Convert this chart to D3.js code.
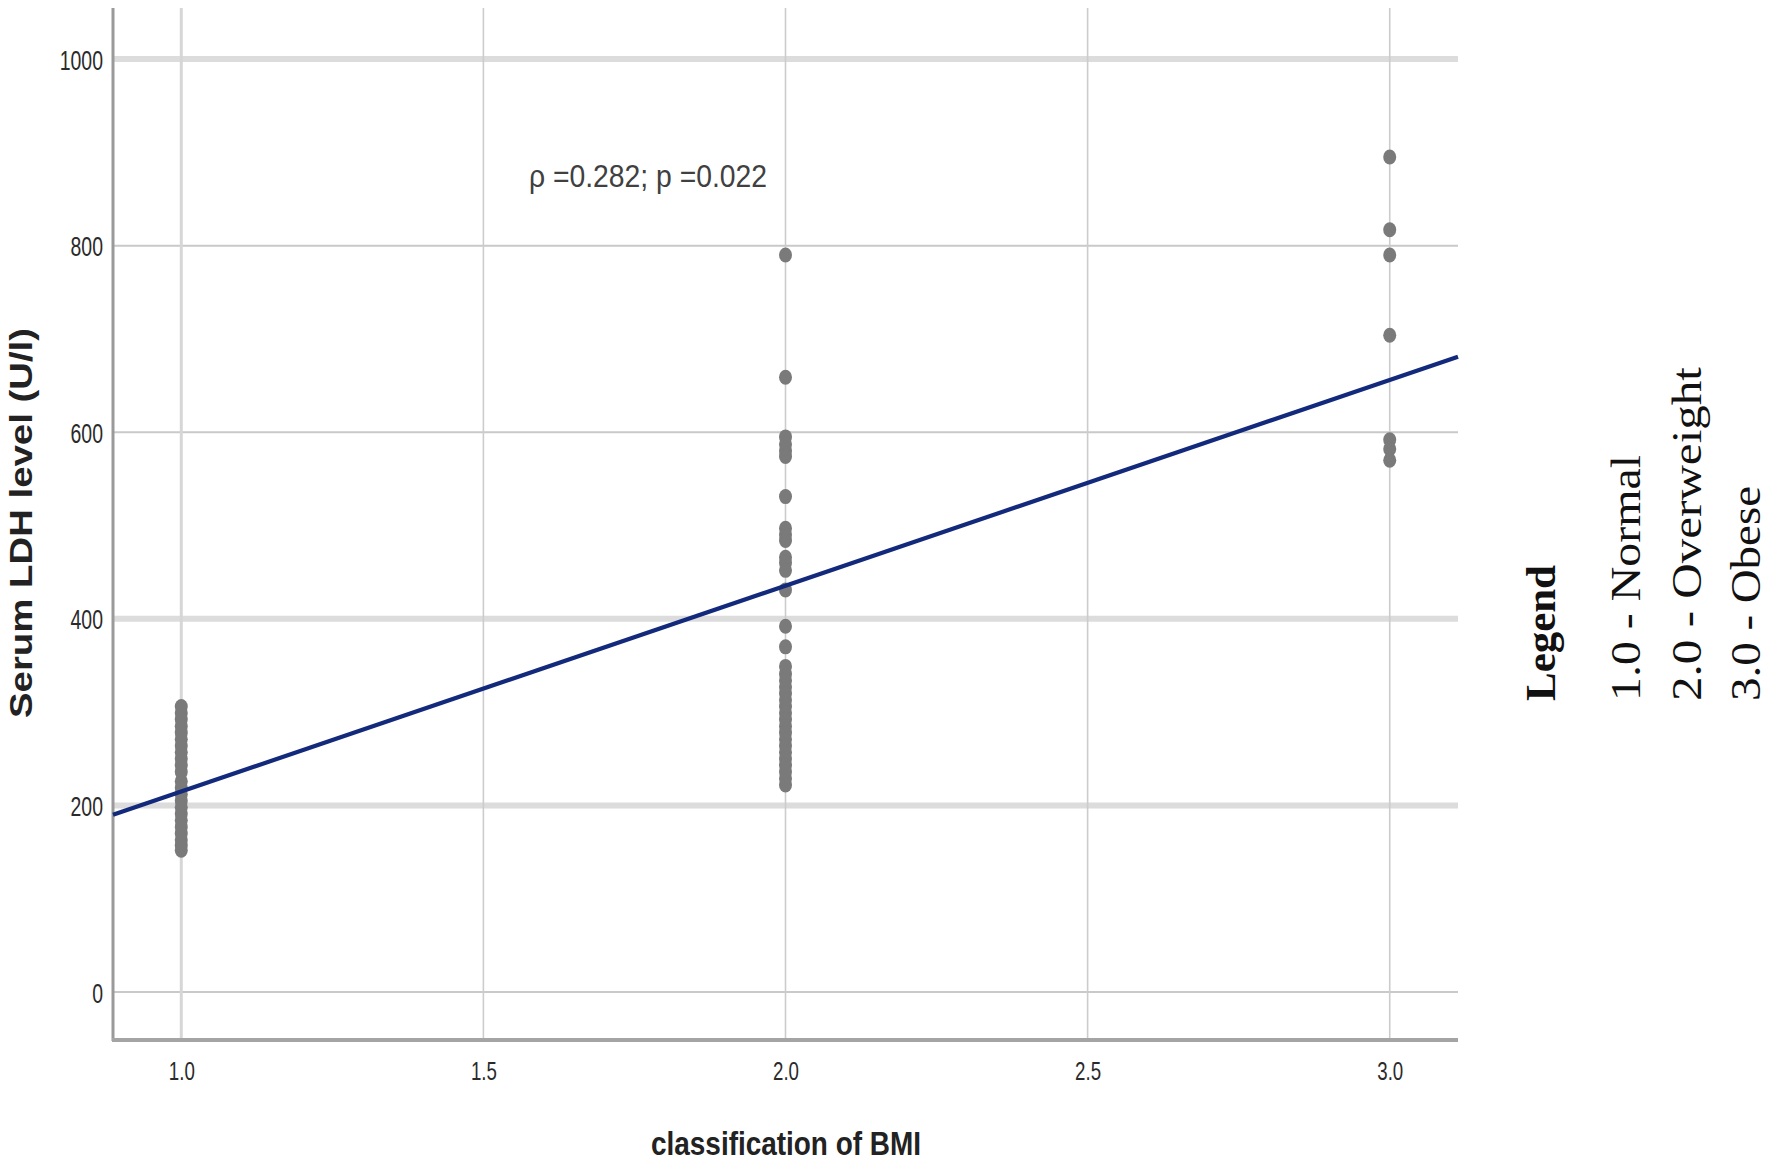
<!DOCTYPE html>
<html>
<head>
<meta charset="utf-8">
<script src="https://cdn.jsdelivr.net/npm/d3@7"></script>
<style>
  html, body { margin: 0; padding: 0; background: #ffffff; }
  svg { display: block; }
</style>
</head>
<body>
<svg id="chart" width="1772" height="1165"></svg>
<script>
// ---------------- data ----------------
const bmiCategories = [1.0, 2.0, 3.0];
const ldhNormal = [306, 299, 292, 285, 278, 271, 264, 257, 250, 243, 236, 226, 219, 212, 205, 198, 191, 184, 177, 170, 163, 157, 152];
const ldhOverweight = [790, 659, 595, 587, 580, 574, 531, 497, 490, 484, 466, 460, 452, 431, 392, 370,
  349, 341, 334, 327, 320, 313, 306, 299, 292, 285, 278, 271, 264, 257, 250, 243, 236, 229, 222];
const ldhObese = [895, 817, 790, 704, 592, 582, 570];
const xTicks = [1.0, 1.5, 2.0, 2.5, 3.0];
const yTicks = [0, 200, 400, 600, 800, 1000];
const yTicksMajor = [200, 400, 1000];
const fitX = [0.887, 3.113];
const fitY = [190, 681];
const annotationText = "ρ =0.282; p =0.022";
const xTitle = "classification of BMI";
const yTitle = "Serum LDH level (U/l)";
const legendTitle = "Legend";
const legendItems = ["1.0 - Normal", "2.0 - Overweight", "3.0 - Obese"];

// ---------------- layout ----------------
const svg = d3.select("#chart");
const plotL = 113, plotR = 1458, plotT = 8, plotB = 1040;

const x = d3.scaleLinear().domain([0.887, 3.113]).range([plotL, plotR]);
const y = d3.scaleLinear().domain([-51.4, 1054.7]).range([plotB, plotT]);

// gridlines - horizontal
const grid = svg.append("g");
grid.selectAll("line.h").data(yTicks).join("line").attr("class", "h")
  .attr("x1", plotL).attr("x2", plotR)
  .attr("y1", d => y(d)).attr("y2", d => y(d))
  .attr("stroke", d => yTicksMajor.includes(d) ? "#dcdcdc" : "#c9c9c9")
  .attr("stroke-width", d => yTicksMajor.includes(d) ? 6 : 2);
// gridlines - vertical
grid.selectAll("line.v").data(xTicks).join("line").attr("class", "v")
  .attr("y1", plotT).attr("y2", plotB)
  .attr("x1", d => x(d)).attr("x2", d => x(d))
  .attr("stroke", d => d === 1.0 ? "#d6d6d6" : "#cccccc")
  .attr("stroke-width", d => d === 1.0 ? 3 : 1.6);

// axes
const yAxis = d3.axisLeft(y).tickValues(yTicks).tickSize(0).tickFormat(d3.format("d"));
const gy = svg.append("g").attr("transform", `translate(${plotL},0)`).call(yAxis);
gy.select(".domain").remove();
gy.selectAll("text")
  .attr("x", null).attr("dy", null)
  .attr("transform", "translate(-10,10) scale(0.72,1)")
  .attr("text-anchor", "end")
  .attr("font-family", "Liberation Sans, Arial, sans-serif")
  .attr("font-size", 27)
  .attr("fill", "#2a2a2a");

const xAxis = d3.axisBottom(x).tickValues(xTicks).tickSize(0).tickFormat(d3.format(".1f"));
const gx = svg.append("g").attr("transform", `translate(0,${plotB})`).call(xAxis);
gx.select(".domain").remove();
gx.selectAll("text")
  .attr("y", null).attr("dy", null)
  .attr("transform", "translate(0,40) scale(0.72,1)")
  .attr("text-anchor", "middle")
  .attr("font-family", "Liberation Sans, Arial, sans-serif")
  .attr("font-size", 26)
  .attr("fill", "#2a2a2a");

// axis lines
svg.append("line").attr("x1", plotL).attr("x2", plotL).attr("y1", plotT).attr("y2", plotB + 1)
  .attr("stroke", "#9a9a9a").attr("stroke-width", 3);
svg.append("line").attr("x1", plotL - 1).attr("x2", plotR).attr("y1", plotB).attr("y2", plotB)
  .attr("stroke", "#a4a4a4").attr("stroke-width", 4);

// points
const pts = [];
[ldhNormal, ldhOverweight, ldhObese].forEach((arr, i) => arr.forEach(v => pts.push({ c: bmiCategories[i], v })));
svg.append("g").selectAll("ellipse").data(pts).join("ellipse")
  .attr("cx", d => x(d.c)).attr("cy", d => y(d.v))
  .attr("rx", 6.5).attr("ry", 7.5)
  .attr("fill", "#7a7a7a");

// fit line
const line = d3.line().x(d => x(d[0])).y(d => y(d[1]));
svg.append("path").datum([[fitX[0], fitY[0]], [fitX[1], fitY[1]]])
  .attr("d", line).attr("stroke", "#132a7c").attr("stroke-width", 4.2).attr("fill", "none");

// annotation
svg.append("text").attr("x", 529).attr("y", 187)
  .attr("font-family", "Liberation Sans, Arial, sans-serif")
  .attr("font-size", 32).attr("fill", "#404040")
  .attr("textLength", 238).attr("lengthAdjust", "spacingAndGlyphs")
  .text(annotationText);

// axis titles
svg.append("text").attr("x", 786).attr("y", 1155)
  .attr("text-anchor", "middle")
  .attr("font-family", "Liberation Sans, Arial, sans-serif")
  .attr("font-weight", "bold").attr("font-size", 34).attr("fill", "#222")
  .attr("textLength", 270).attr("lengthAdjust", "spacingAndGlyphs")
  .text(xTitle);

svg.append("text").attr("transform", "translate(32,523) rotate(-90)")
  .attr("text-anchor", "middle")
  .attr("font-family", "Liberation Sans, Arial, sans-serif")
  .attr("font-weight", "bold").attr("font-size", 31).attr("fill", "#222")
  .attr("textLength", 390).attr("lengthAdjust", "spacingAndGlyphs")
  .text(yTitle);

// legend (rotated, serif)
const legendX = [1555, 1640, 1701, 1760];
const legendLen = [136, 246, 334, 215];
const legendTexts = [legendTitle].concat(legendItems);
svg.append("g").selectAll("text").data(legendTexts).join("text")
  .attr("transform", (d, i) => `translate(${legendX[i]},701) rotate(-90)`)
  .attr("font-family", "Liberation Serif, Times New Roman, serif")
  .attr("font-weight", (d, i) => i === 0 ? "bold" : "normal")
  .attr("font-size", 43).attr("fill", "#111")
  .attr("textLength", (d, i) => legendLen[i]).attr("lengthAdjust", "spacingAndGlyphs")
  .text(d => d);
</script>
</body>
</html>
